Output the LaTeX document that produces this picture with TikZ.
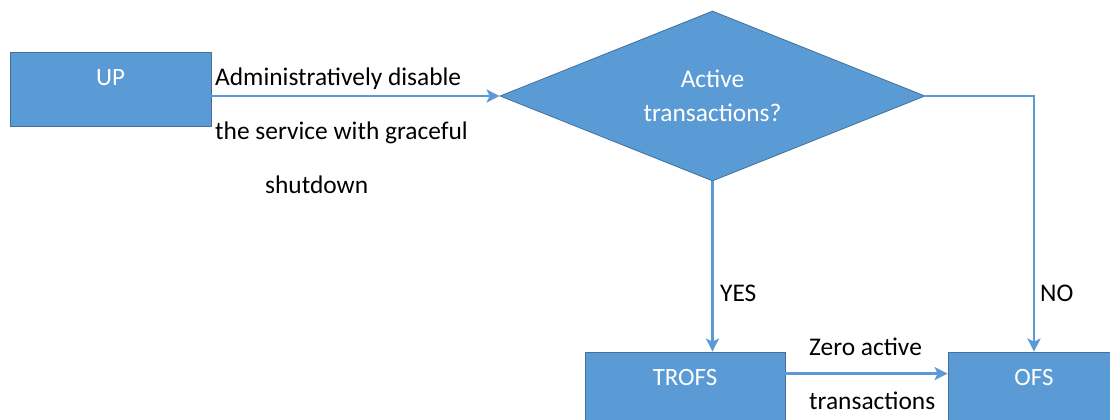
\documentclass[tikz,border=0pt]{standalone}
\usepackage{fontspec}
\setmainfont{Carlito}
\usetikzlibrary{arrows.meta,shapes.geometric}
\definecolor{boxblue}{HTML}{5B9BD5}
\definecolor{boxedge}{HTML}{41719C}
\begin{document}
\begin{tikzpicture}[x=1bp,y=-1bp,
  box/.style={draw=boxedge, fill=boxblue, line width=0.8bp, minimum height=74bp,
    inner sep=0pt, text=white, font=\fontsize{25}{30}\selectfont,
    text height=14bp, text depth=21bp},
  decision/.style={shape=diamond, shape aspect=2.5, draw=boxedge, fill=boxblue, line width=0.8bp,
    minimum width=425bp, minimum height=170bp, inner sep=0pt, text=white,
    align=center, font=\fontsize{25.5}{34}\selectfont},
  conn/.style={draw=boxblue, line width=2.7bp, -{Stealth[length=13bp,width=13bp,inset=3bp]}},
  lbl/.style={font=\fontsize{25.5}{54}\selectfont, text=black, inner sep=0pt, align=left}]
\useasboundingbox (0,0) rectangle (1110,419);
\node[box, minimum width=201bp] (up) at (110.5,89) {UP};
\node[decision] (dec) at (712.5,96) {Active\\transactions?};
\node[box, minimum width=200bp] (trofs) at (685,389) {TROFS};
\node[box, minimum width=172bp] (ofs) at (1034,389) {OFS};
\draw[conn] (up.east |- dec.west) -- (dec.west);
\draw[conn] (dec.south) -- (dec.south |- trofs.north);
\draw[conn] (dec.east) -| (ofs.north);
\draw[conn] ([yshift=-22bp]trofs.north east) -- ([yshift=-22bp]ofs.north west);
\node[lbl, anchor=north west] (l1) at (215,68) {Administratively disable\\the service with graceful\\\hspace*{50bp}shutdown};
\node[lbl, anchor=west] (lyes) at (720,293) {YES};
\node[lbl, anchor=west] (lno) at (1040,293) {NO};
\node[lbl, anchor=north west] (l2) at (809,338) {Zero active\\transactions};
\end{tikzpicture}
\end{document}
